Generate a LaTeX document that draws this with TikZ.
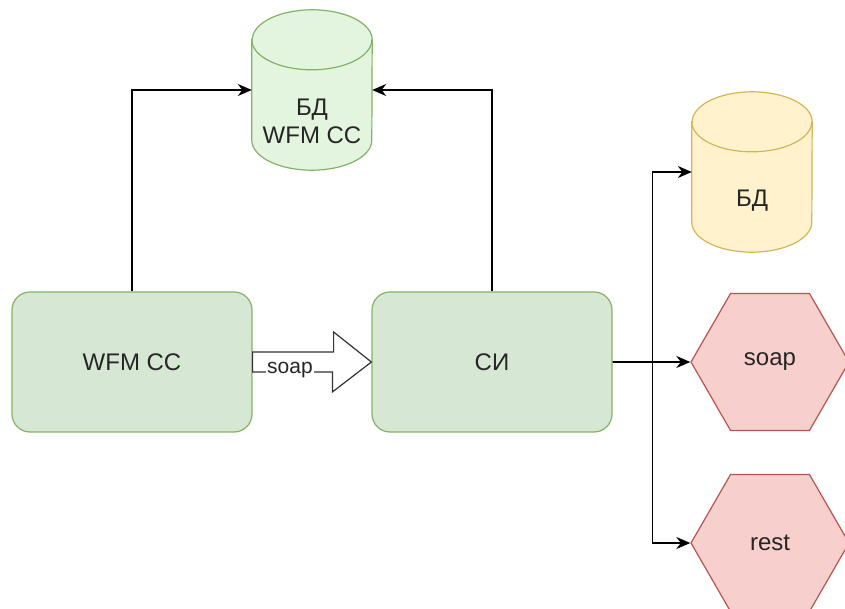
\documentclass[tikz,border=0pt]{standalone}
\usepackage{fontspec}
\setmainfont{Liberation Sans}
\usetikzlibrary{shapes.geometric, arrows.meta, calc, positioning}
\definecolor{boxgreen}{rgb}{0.84, 0.91, 0.83}
\definecolor{cylgreen}{rgb}{0.89, 0.96, 0.87}
\definecolor{linegreen}{rgb}{0.51, 0.70, 0.40}
\definecolor{boxyellow}{rgb}{1.0, 0.95, 0.80}
\definecolor{lineyellow}{rgb}{0.84, 0.71, 0.34}
\definecolor{boxred}{rgb}{0.97, 0.81, 0.80}
\definecolor{linered}{rgb}{0.72, 0.33, 0.31}
% cylinder around a named node: #1 node, #2 stroke, #3 fill
\newcommand{\drawstore}[3]{%
  \filldraw[draw=#2, fill=#3, line width=1.2pt]
    ($(#1.north west)+(0,30)$) -- ($(#1.south west)+(0,-30)$)
    arc[start angle=180, end angle=360, x radius=60pt, y radius=30pt]
    -- ($(#1.north east)+(0,30)$)
    arc[start angle=0, end angle=180, x radius=60pt, y radius=30pt] -- cycle;
  \draw[draw=#2, line width=1.2pt] ($(#1.north west)+(0,30)$)
    arc[start angle=180, end angle=360, x radius=60pt, y radius=30pt];}

\begin{document}
\begin{tikzpicture}[x=1pt,y=-1pt,>={Stealth[length=14pt,width=12pt]},
    every node/.style={text=black!85, font=\fontsize{24}{28}\selectfont},
    service/.style={draw=linegreen, fill=boxgreen, line width=1.2pt, rounded corners=18pt,
        minimum width=240pt, minimum height=140pt},
    store/.style={minimum width=120pt, minimum height=160pt, inner sep=0pt},
    hexa/.style={regular polygon, regular polygon sides=6, draw=linered, fill=boxred,
        line width=1.2pt, minimum size=158pt, inner sep=0pt},
    conn/.style={->, line width=1.6pt, black}]
\clip (0,0) rectangle (845,609);

% Services
\node[service] (wfm) at (132,362) {WFM CC};
\node[service] (si) at (492,362) {СИ};

% Databases
\node[store] (dbwfm) at (312,90) {};
\drawstore{dbwfm}{linegreen}{cylgreen}
\node[align=center] (dbwfmtext) at ($(dbwfm.center)+(0,31)$) {БД\\WFM CC};
\node[store] (db) at (752,172) {};
\drawstore{db}{lineyellow}{boxyellow}
\node (dbtext) at ($(db.center)+(0,29)$) {БД};

% External interfaces
\node[hexa] (hexsoap) at (770,362) {soap};
\node[hexa] (hexrest) at (770,543) {rest};

% Writes to the WFM CC database
\draw[conn] (wfm.north) |- (dbwfm.west);
\draw[conn] (si.north) |- (dbwfm.east);

% Block arrow labelled soap
\draw[black!80, line width=1.2pt, fill=white]
    ($(wfm.east)+(0,-10)$) -- ++(81,0) -- ++(0,-20) -- (si.west)
    -- ++(-39,30) -- ++(0,-20) -- ($(wfm.east)+(0,10)$) -- cycle;
\node[fill=white, inner sep=1pt, font=\fontsize{21}{24}\selectfont] (soaplbl) at (290,370) {soap};

% Outgoing calls of СИ
\coordinate (split) at ($(si.east)+(40,0)$);
\draw[conn] (si.east) -- (hexsoap.west);
\draw[conn] (split) |- (db.west);
\draw[conn] (split) |- (hexrest.west);
\end{tikzpicture}
\end{document}
